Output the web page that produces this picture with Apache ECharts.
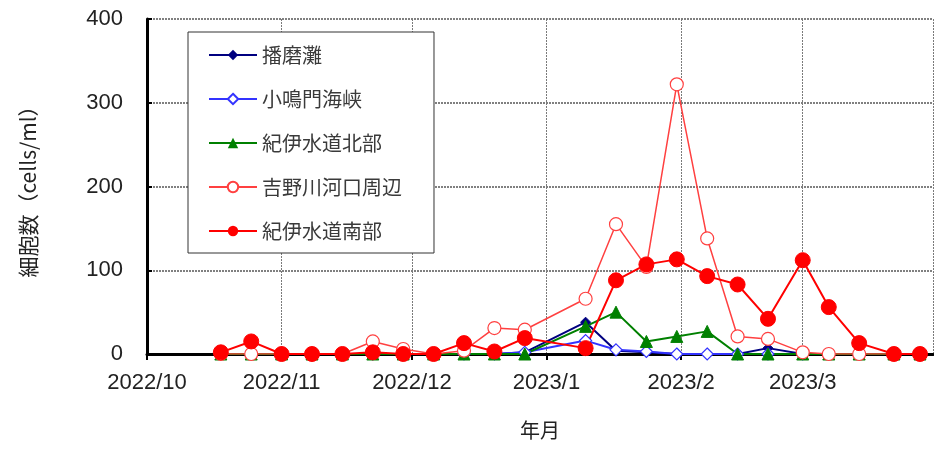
<!DOCTYPE html>
<html>
<head>
<meta charset="utf-8">
<script src="https://cdn.jsdelivr.net/npm/echarts@6/dist/echarts.min.js"></script>
<style>
  html, body { margin: 0; padding: 0; background: #ffffff; }
  #chart { width: 934px; height: 453px; }
</style>
</head>
<body>
<div id="chart"></div>
<script>
// Sampling dates (weekly surveys)
const dates = [
  '2022-10-18', '2022-10-25', '2022-11-01', '2022-11-08', '2022-11-15',
  '2022-11-22', '2022-11-29', '2022-12-06', '2022-12-13', '2022-12-20',
  '2022-12-27', '2023-01-10', '2023-01-17', '2023-01-24', '2023-01-31',
  '2023-02-07', '2023-02-14', '2023-02-21', '2023-03-01', '2023-03-07',
  '2023-03-14', '2023-03-22', '2023-03-28'
];

// Cell counts (cells/ml) per station
const harimaNada      = [0, 0, 0, 0, 0, 0, 0, 0, 0, 0, 2, 38, 4, 2, 0, 0, 0, 7, 0, 0, 0, 0, 0];
const konarutoKaikyo  = [0, 0, 0, 0, 0, 0, 0, 0, 0, 0, 2, 16, 5, 3, 0, 0, 0, 0, 0, 0, 0, 0, 0];
const kiiSuidoNorth   = [0, 0, 0, 0, 0, 0, 0, 0, 0, 0, 0, 33, 50, 15, 21, 27, 0, 0, 0, 0, 0, 0, 0];
const yoshinoEstuary  = [0, 0, 0, 0, 0, 15, 6, 0, 4, 31, 29, 66, 155, 104, 322, 138, 21, 18, 2, 0, 0, 0, 0];
const kiiSuidoSouth   = [2, 15, 0, 0, 0, 2, 0, 0, 13, 3, 19, 7, 88, 107, 113, 93, 83, 42, 112, 56, 13, 0, 0];

const seriesNames = ['播磨灘', '小鳴門海峡', '紀伊水道北部', '吉野川河口周辺', '紀伊水道南部'];

const yTicks = { min: 0, max: 400, interval: 100 };
const xRange = { min: '2022-10-01', max: '2023-03-31' };

function pairs(values) {
  return dates.map((d, i) => [d, values[i]]);
}

const latin = '"Liberation Sans", Arial, "Noto Sans CJK JP", sans-serif';
const cjk = '"Noto Sans CJK JP", "Liberation Sans", sans-serif';

const chart = echarts.init(document.getElementById('chart'), null, { renderer: 'canvas' });

chart.setOption({
  backgroundColor: '#ffffff',
  animation: false,
  grid: { left: 147, right: 1, top: 19, bottom: 99, containLabel: false, outerBoundsMode: 'none' },
  legend: {
    orient: 'vertical',
    left: 188,
    top: 32,
    padding: [13, 32, 12, 20],
    itemWidth: 48,
    itemHeight: 13,
    itemGap: 24,
    backgroundColor: '#ffffff',
    borderColor: '#333333',
    borderWidth: 1,
    borderRadius: 0,
    textStyle: { fontFamily: cjk, fontSize: 20, lineHeight: 20, color: '#3a3a3a' },
    data: seriesNames
  },
  xAxis: {
    type: 'time',
    min: xRange.min,
    max: xRange.max,
    splitNumber: 6,
    minInterval: 28 * 86400000,
    name: '年月',
    nameLocation: 'middle',
    nameGap: 66,
    nameTextStyle: { fontFamily: cjk, fontSize: 20, color: '#222222' },
    axisLine: { onZero: false, lineStyle: { color: '#000000', width: 3 } },
    axisTick: { show: true, inside: false, length: 6, lineStyle: { color: '#000000', width: 2 } },
    axisLabel: {
      margin: 18,
      fontFamily: latin,
      fontSize: 22,
      color: '#222222',
      formatter: function (value) {
        const d = new Date(value);
        // label month starts only
        return d.getDate() === 1 ? d.getFullYear() + '/' + (d.getMonth() + 1) : '';
      }
    },
    splitLine: { show: true, lineStyle: { color: '#7a7a7a', width: 1, type: [2, 1] } }
  },
  yAxis: {
    type: 'value',
    min: yTicks.min,
    max: yTicks.max,
    interval: yTicks.interval,
    name: '細胞数（cells/ml）',
    nameLocation: 'middle',
    nameRotate: 90,
    nameGap: 108,
    nameTextStyle: { fontFamily: cjk, fontSize: 21, color: '#222222' },
    axisLine: { show: true, lineStyle: { color: '#000000', width: 3 } },
    axisTick: { show: true, inside: true, length: 5, lineStyle: { color: '#000000', width: 2 } },
    axisLabel: { margin: 24, fontFamily: latin, fontSize: 22, color: '#222222' },
    splitLine: { show: true, lineStyle: { color: '#808080', width: 2, type: [2, 1] } }
  },
  series: [
    {
      name: seriesNames[0], type: 'line', data: pairs(harimaNada),
      symbol: 'diamond', symbolSize: 10,
      lineStyle: { color: '#000080', width: 2 },
      itemStyle: { color: '#000080', borderColor: '#000080' }
    },
    {
      name: seriesNames[1], type: 'line', data: pairs(konarutoKaikyo),
      symbol: 'diamond', symbolSize: 12,
      lineStyle: { color: '#3333ff', width: 2 },
      itemStyle: { color: '#ffffff', borderColor: '#3333ff', borderWidth: 1.2 }
    },
    {
      name: seriesNames[2], type: 'line', data: pairs(kiiSuidoNorth),
      symbol: 'triangle', symbolSize: 12,
      lineStyle: { color: '#008000', width: 2 },
      itemStyle: { color: '#008000', borderColor: '#008000' }
    },
    {
      name: seriesNames[3], type: 'line', data: pairs(yoshinoEstuary),
      symbol: 'circle', symbolSize: 13,
      lineStyle: { color: '#ff4040', width: 1.5 },
      itemStyle: { color: '#ffffff', borderColor: '#ff4040', borderWidth: 1.2 }
    },
    {
      name: seriesNames[4], type: 'line', data: pairs(kiiSuidoSouth),
      symbol: 'circle', symbolSize: 15,
      lineStyle: { color: '#ff0000', width: 2 },
      itemStyle: { color: '#ff0000', borderColor: '#ff0000' }
    }
  ]
});
</script>
</body>
</html>
